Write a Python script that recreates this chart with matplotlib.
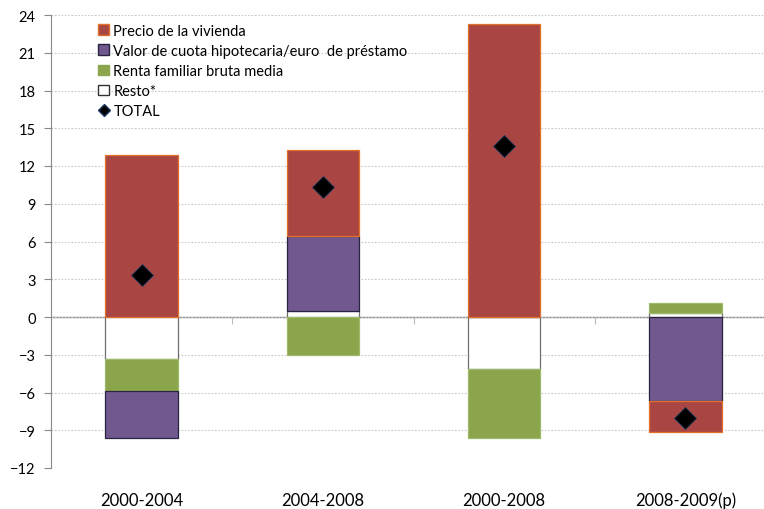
import numpy as np
import matplotlib.pyplot as plt
from matplotlib.patches import Patch
from matplotlib.lines import Line2D

plt.rcParams['font.family'] = ['Lato', 'DejaVu Sans']

periodos = ["2000-2004", "2004-2008", "2000-2008", "2008-2009(p)"]

# contribuciones (puntos porcentuales)
precio = [12.9, 6.9, 23.3, -2.4]
valor_cuota = [-3.7, 5.9, 0.0, -6.7]
renta = [-2.6, -3.0, -5.5, 0.8]
resto = [-3.3, 0.5, -4.1, 0.3]
total = [3.3, 10.3, 13.6, -8.0]

series = [
    # orden de apilado desde el cero hacia fuera
    ("Resto*", resto, "white", "#6f6f6f"),
    ("Renta familiar bruta media", renta, "#8BA54D", "#9fbb6a"),
    ("Valor de cuota hipotecaria/euro  de préstamo", valor_cuota, "#71588F", "#2a2340"),
    ("Precio de la vivienda", precio, "#A94643", "#E0702A"),
]

fig = plt.figure(figsize=(7.64, 5.10), dpi=100)
ax = fig.add_axes([51 / 764, 41 / 510, 725 / 764, 453 / 510])

x = np.arange(len(periodos))
pos_base = np.zeros(len(periodos))
neg_base = np.zeros(len(periodos))
for name, vals, fc, ec in series:
    v = np.array(vals, dtype=float)
    bottom = np.where(v >= 0, pos_base, neg_base)
    ax.bar(x, v, 0.4, bottom=bottom, color=fc, edgecolor=ec, linewidth=0.9, zorder=3)
    pos_base = pos_base + np.where(v > 0, v, 0)
    neg_base = neg_base + np.where(v < 0, v, 0)

ax.plot(x, total, linestyle="none", marker="D", markersize=11,
        markerfacecolor="black", markeredgecolor="#1f3a5f", markeredgewidth=0.6, zorder=5)

ax.set_xlim(-0.5, 3.5)
ax.set_ylim(-12, 24)
ax.set_yticks(np.arange(-12, 25, 3))
ax.tick_params(axis="y", direction="out", length=5, color="#888888", labelsize=10.5, pad=6)
ax.yaxis.grid(True, linestyle=(0, (1.5, 1.5)), color="#c8c8c8", linewidth=0.8, zorder=0)

ax.set_xticks(x)
ax.set_xticklabels(periodos, fontsize=12)
ax.tick_params(axis="x", length=0, pad=17)

for s in ["top", "right", "bottom"]:
    ax.spines[s].set_visible(False)
ax.spines["left"].set_color("#888888")

# eje de categorías en el cero
zero = ax.secondary_xaxis(12 / 36)
zero.set_xticks([0.5, 1.5, 2.5])
zero.set_xticklabels([])
zero.tick_params(axis="x", direction="out", length=5, color="#bbbbbb")
zero.spines["bottom"].set_color("#888888")
zero.spines["bottom"].set_linewidth(1.0)
zero.spines["bottom"].set_zorder(4)

handles = [
    Patch(facecolor="#A94643", edgecolor="#E0702A", label="Precio de la vivienda"),
    Patch(facecolor="#71588F", edgecolor="#2a2340", label="Valor de cuota hipotecaria/euro  de préstamo"),
    Patch(facecolor="#8BA54D", edgecolor="#8BA54D", label="Renta familiar bruta media"),
    Patch(facecolor="white", edgecolor="#333333", label="Resto*"),
    Line2D([], [], linestyle="none", marker="D", markersize=6, markerfacecolor="black",
           markeredgecolor="#1f3a5f", label="TOTAL"),
]
leg = ax.legend(handles=handles, loc="upper left", bbox_to_anchor=(0.053, 1.0),
                frameon=False, fontsize=10.5, handlelength=0.75, handleheight=0.75,
                handletextpad=0.3, labelspacing=0.42, borderaxespad=0.2)
leg.set_zorder(6)

fig.savefig("out.png", dpi=100)
